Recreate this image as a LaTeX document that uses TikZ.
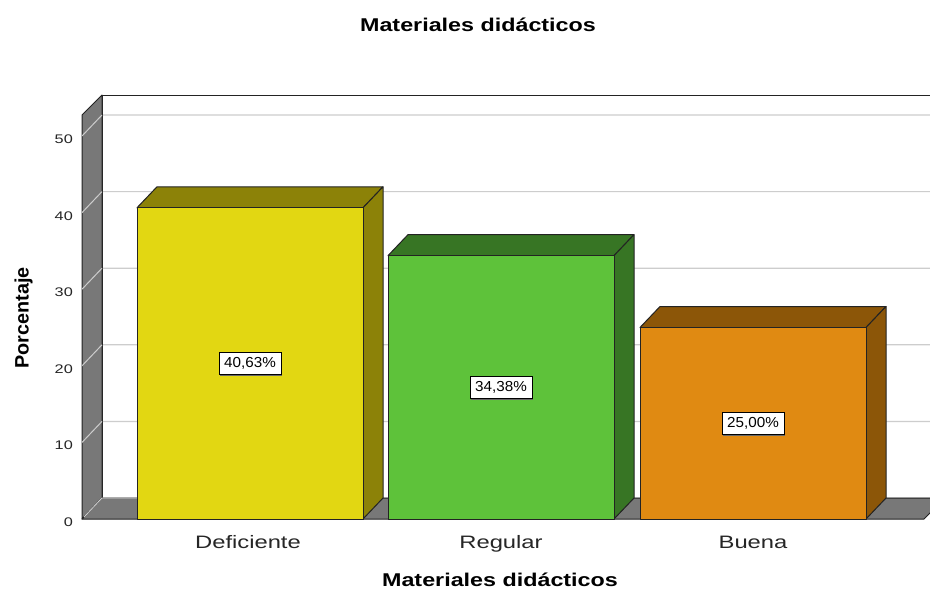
\documentclass[tikz,border=0pt]{standalone}
\usepackage{fontspec}
\setmainfont{Liberation Sans}
\usepackage{graphicx}
\definecolor{yelF}{RGB}{226,215,18}
\definecolor{yelD}{RGB}{140,130,8}
\definecolor{grnF}{RGB}{94,194,58}
\definecolor{grnD}{RGB}{55,117,36}
\definecolor{orgF}{RGB}{224,138,18}
\definecolor{orgD}{RGB}{140,86,8}
\definecolor{wallG}{RGB}{120,120,120}
\definecolor{gridG}{RGB}{205,205,205}
\definecolor{edgeG}{RGB}{35,35,35}
\newcommand{\tickfont}{\fontsize{12.5}{14}\selectfont}
\newcommand{\catfont}{\fontsize{18}{20}\selectfont}
\newcommand{\valfont}{\fontsize{14.5}{16}\selectfont}
\newcommand{\ttlfont}{\fontsize{18.5}{20}\selectfont\bfseries}
\newcommand{\mybar}[6]{%
  \pgfmathsetmacro\yt{519-7.66*#2}%
  \pgfmathsetmacro\ytb{\yt-21}%
  \pgfmathsetmacro\xr{#1+226}%
  \pgfmathsetmacro\xrb{#1+246}%
  \pgfmathsetmacro\xb{#1+20}%
  \pgfmathsetmacro\xm{#1+113}%
  \pgfmathsetmacro\ym{(\yt+519)/2}%
  \filldraw[baredge,fill=#4] (#1,\yt) -- (\xb,\ytb) -- (\xrb,\ytb) -- (\xr,\yt) -- cycle;
  \filldraw[baredge,fill=#4] (\xr,\yt) -- (\xrb,\ytb) -- (\xrb,498) -- (\xr,519) -- cycle;
  \filldraw[baredge,fill=#3] (#1,\yt) rectangle (\xr,519);
  \node[vallabel] (#6) at (\xm,\ym) {\scalebox{1.05}[1]{#5}};
}
\usetikzlibrary{shadows}
\tikzset{
  baredge/.style={draw=edgeG,line width=1pt,line join=round},
  wall/.style={fill=wallG,draw=edgeG,line width=1pt,line join=round},
  gridl/.style={draw=gridG,line width=1.2pt},
  vallabel/.style={draw=black,fill=white,line width=0.9pt,inner sep=0pt,minimum width=62pt,minimum height=22pt,font=\valfont,
    drop shadow={shadow xshift=1.3pt,shadow yshift=-1.3pt,fill=black!60,opacity=1}},
  ticklabel/.style={anchor=base east,inner sep=0pt,font=\tickfont,text=black!85},
  catlabel/.style={anchor=base,inner sep=0pt,font=\catfont,text=black!85},
  ttl/.style={anchor=base,inner sep=0pt,font=\ttlfont}
}
\begin{document}
\begin{tikzpicture}[x=1pt,y=-1pt]
\useasboundingbox (0,0) rectangle (930,590);
\fill[white] (0,0) rectangle (930,590);
\begin{scope}
\clip (0,0) rectangle (930,590);
% back wall grid
\foreach \v in {0,10,...,50}{
  \pgfmathsetmacro\yy{519-7.66*\v}
  \draw[gridl] (82,\yy) -- (102,\yy-21) -- (940,\yy-21);
}
% back wall outline
\draw[edgeG,line width=1pt] (102,498) -- (102,95) -- (940,95);
% left wall
\filldraw[wall] (82,519) -- (82,115) -- (102,95) -- (102,498) -- cycle;
\foreach \v in {10,20,...,50}{
  \pgfmathsetmacro\yy{519-7.66*\v}
  \draw[draw=gridG,line width=1pt] (82,\yy) -- (102,\yy-21);
}
% floor
\filldraw[wall] (82,519) -- (102,498) -- (945,498) -- (924,519) -- cycle;
\draw[draw=gridG,line width=1pt] (84,517) -- (102,498) -- (137,498);
\end{scope}
% tick labels
\foreach \v/\n in {0/t0,10/t10,20/t20,30/t30,40/t40,50/t50}{
  \pgfmathsetmacro\yy{519-7.66*\v+7.5}
  \node[ticklabel] (\n) at (73,\yy) {\scalebox{1.3}[1]{\v}};
}
% bars
\mybar{137}{40.63}{yelF}{yelD}{40,63\%}{vdef}
\mybar{388}{34.38}{grnF}{grnD}{34,38\%}{vreg}
\mybar{640}{25.00}{orgF}{orgD}{25,00\%}{vbue}
% category labels
\node[catlabel] (cdef) at (248,548) {\scalebox{1.32}[1]{Deficiente}};
\node[catlabel] (creg) at (501,548) {\scalebox{1.32}[1]{Regular}};
\node[catlabel] (cbue) at (753,548) {\scalebox{1.32}[1]{Buena}};
% titles
\node[ttl] (title) at (478,31.5) {\scalebox{1.26}[1]{Materiales didácticos}};
\node[ttl] (xtitle) at (500,586) {\scalebox{1.26}[1]{Materiales didácticos}};
\node[inner sep=0pt,font=\ttlfont,rotate=90] (ytitle) at (23.5,318) {\scalebox{1.07}[1.05]{Porcentaje}};
\end{tikzpicture}
\end{document}
